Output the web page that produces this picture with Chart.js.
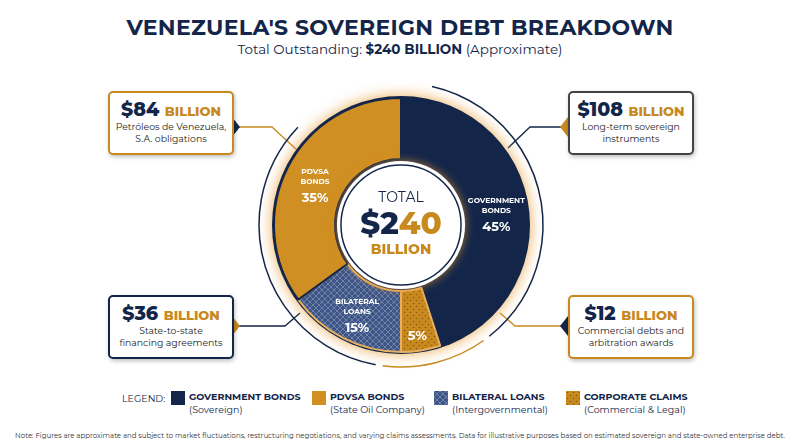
<!DOCTYPE html>
<html>
<head>
<meta charset="utf-8">
<script src="https://cdn.jsdelivr.net/npm/chart.js@4"></script>
<style>
  body{margin:0;width:800px;height:447px;background:#fff;font-family:Montserrat,"Open Sans",sans-serif;position:relative;overflow:hidden;color:#13264a}
  .abs{position:absolute}
  h1{position:absolute;top:14px;left:0;width:800px;margin:0;text-align:center;font-size:22px;font-weight:700;color:#13264a;letter-spacing:0.3px}
  .sub{top:41px;left:0;width:800px;text-align:center;font-size:13.5px}
  .box{width:122px;border:2px solid;border-radius:5px;background:#fff;text-align:center;box-shadow:1px 2px 4px rgba(0,0,0,.25)}
  .box .v{font-size:19px;font-weight:800;margin-top:5px}
  .box .v span{font-size:13px;color:#c8891f}
  .box .d{font-size:9.3px;line-height:12px;margin-bottom:8px;color:#222;white-space:nowrap}
  .leg{top:390px;font-size:9.5px;line-height:13px;white-space:nowrap}
  .leg b{font-weight:700;font-size:9.5px}
  .sw{width:14px;height:14px;top:391px}
</style>
</head>
<body>
<h1>VENEZUELA'S SOVEREIGN DEBT BREAKDOWN</h1>
<div class="abs sub">Total Outstanding: <b>$240 BILLION</b> (Approximate)</div>

<svg class="abs" style="left:0;top:0" width="800" height="447">
  <polyline points="232,127 272,127 297,150" fill="none" stroke="#c8891f" stroke-width="1.3"/>
  <polyline points="568,127 530,127 508,148" fill="none" stroke="#13264a" stroke-width="1.3"/>
  <polyline points="232,326 285,326 300,313" fill="none" stroke="#13264a" stroke-width="1.3"/>
  <polyline points="568,326 515,326 500,313" fill="none" stroke="#c8891f" stroke-width="1.3"/>
  <polygon points="232,117 240,127 232,137" fill="#13264a"/>
  <polygon points="568,117 560,127 568,137" fill="#c8891f"/>
  <polygon points="232,316 240,326 232,336" fill="#c8891f"/>
  <polygon points="568,316 560,326 568,336" fill="#13264a"/>
</svg>

<canvas id="grafico" class="abs" style="left:241px;top:65px" width="320" height="320"></canvas>

<div class="abs" style="left:341px;top:188px;width:120px;text-align:center">
  <div style="font-size:14px">TOTAL</div>
  <div style="font-size:31px;font-weight:800;line-height:34px">$2<span style="color:#c8891f">40</span></div>
  <div style="font-size:14px;font-weight:800;color:#c8891f">BILLION</div>
</div>

<div class="abs box" style="left:108px;top:91px;border-color:#c8891f"><div class="v">$84 <span>BILLION</span></div><div class="d">Petróleos de Venezuela,<br>S.A. obligations</div></div>
<div class="abs box" style="left:568px;top:91px;border-color:#444"><div class="v">$108 <span>BILLION</span></div><div class="d">Long-term sovereign<br>instruments</div></div>
<div class="abs box" style="left:108px;top:295px;border-color:#13264a"><div class="v">$36 <span>BILLION</span></div><div class="d">State-to-state<br>financing agreements</div></div>
<div class="abs box" style="left:568px;top:295px;border-color:#c8891f"><div class="v">$12 <span>BILLION</span></div><div class="d">Commercial debts and<br>arbitration awards</div></div>

<div class="abs leg" style="left:122px;top:392px">LEGEND:</div>
<div id="leyenda"></div>

<div class="abs" style="left:0;top:431px;width:800px;text-align:center;font-size:7px;color:#333;white-space:nowrap">Note: Figures are approximate and subject to market fluctuations, restructuring negotiations, and varying claims assessments. Data for illustrative purposes based on estimated sovereign and state-owned enterprise debt.</div>

<script>
// datos del grafico
const categorias = ['GOVERNMENT BONDS', 'CORPORATE CLAIMS', 'BILATERAL LOANS', 'PDVSA BONDS']
const porcentajes = [45, 5, 15, 35]
const etiquetas = [['GOVERNMENT', 'BONDS'], [], ['BILATERAL', 'LOANS'], ['PDVSA', 'BONDS']]
const leyenda_nombres = ['GOVERNMENT BONDS', 'PDVSA BONDS', 'BILATERAL LOANS', 'CORPORATE CLAIMS']
const leyenda_sub = ['(Sovereign)', '(State Oil Company)', '(Intergovernmental)', '(Commercial & Legal)']

//patrones para los prestamos y reclamos
function patron(fondo, linea, tipo){
    const c = document.createElement('canvas')
    c.width = 6; c.height = 6
    const x = c.getContext('2d')
    x.fillStyle = fondo; x.fillRect(0,0,6,6)
    x.strokeStyle = linea; x.fillStyle = linea
    if(tipo==='cruz'){
        x.lineWidth = 0.7
        x.beginPath(); x.moveTo(0,0); x.lineTo(6,6); x.moveTo(6,0); x.lineTo(0,6); x.stroke()
    } else {
        x.beginPath(); x.arc(1.5,1.5,0.8,0,7); x.arc(4.5,4.5,0.8,0,7); x.fill()
    }
    return document.getElementById('grafico').getContext('2d').createPattern(c,'repeat')
}
const colores = ['#13264a', patron('#c8891f','#8a5a10','punto'), patron('#3d5486','#8796b8','cruz'), '#d08f22']

// leyenda
const colLeg = ['#13264a','#d08f22', patron('#3d5486','#8796b8','cruz'), patron('#c8891f','#8a5a10','punto')]
const xs = [171, 312, 434, 566]
let html = ''
leyenda_nombres.forEach((n,i)=>{
    html += `<canvas class="abs sw" id="sw${i}" width="14" height="14" style="left:${xs[i]}px"></canvas>
    <div class="abs leg" style="left:${xs[i]+18}px"><b>${n}</b><br>${leyenda_sub[i]}</div>`
})
document.getElementById('leyenda').innerHTML = html
colLeg.forEach((c,i)=>{ const x=document.getElementById('sw'+i).getContext('2d'); x.fillStyle=c; x.fillRect(0,0,14,14) })

const extras = {
    id:'extras',
    beforeDatasetsDraw(chart){
        const a = chart.getDatasetMeta(0).data[0]
        const ctx = chart.ctx
        ctx.save()
        ctx.shadowColor = 'rgba(230,150,40,0.8)'; ctx.shadowBlur = 14
        ctx.fillStyle = '#13264a'
        ctx.beginPath(); ctx.arc(a.x,a.y,a.outerRadius+2,0,Math.PI*2); ctx.fill()
        ctx.restore()
    },
    afterDatasetsDraw(chart){
        const meta = chart.getDatasetMeta(0)
        const a = meta.data[0]
        const ctx = chart.ctx
        ctx.save()
        // anillo exterior
        ctx.strokeStyle = '#13264a'; ctx.lineWidth = 1.5
        ctx.beginPath(); ctx.arc(a.x,a.y,a.outerRadius+15,-1.35,0.9); ctx.stroke()
        ctx.beginPath(); ctx.arc(a.x,a.y,a.outerRadius+15,1.75,3.9); ctx.stroke()
        ctx.strokeStyle = '#c8891f'
        ctx.beginPath(); ctx.arc(a.x,a.y,a.outerRadius+15,0.95,1.7); ctx.stroke()
        // circulo interior
        ctx.shadowColor = 'rgba(230,150,40,0.7)'; ctx.shadowBlur = 10
        ctx.fillStyle = '#fff'
        ctx.beginPath(); ctx.arc(a.x,a.y,a.innerRadius-2,0,Math.PI*2); ctx.fill()
        ctx.shadowBlur = 0
        ctx.strokeStyle = '#13264a'; ctx.lineWidth = 1.5
        ctx.beginPath(); ctx.arc(a.x,a.y,a.innerRadius-6,0,Math.PI*2); ctx.stroke()
        // etiquetas
        ctx.fillStyle = '#fff'; ctx.textAlign = 'center'
        meta.data.forEach((arc,i)=>{
            const ang = (arc.startAngle+arc.endAngle)/2
            const r = (arc.innerRadius+arc.outerRadius)/2 + (i===1?8:0)
            const cx = a.x + Math.cos(ang)*r, cy = a.y + Math.sin(ang)*r
            const lin = etiquetas[i]
            let y = cy - (lin.length*11)/2 + 4
            ctx.font = 'bold 7.5px Montserrat, "Open Sans", sans-serif'
            lin.forEach(t=>{ ctx.fillText(t,cx,y); y+=10 })
            ctx.font = 'bold 13px Montserrat, "Open Sans", sans-serif'
            ctx.fillText(porcentajes[i]+'%', cx, y+8)
        })
        ctx.restore()
    }
}

new Chart(document.getElementById('grafico'), {
    type:'doughnut',
    data:{labels:categorias, datasets:[{data:porcentajes, backgroundColor:colores, borderColor:['#13264a','#e8b060','#e8b060','#13264a'], borderWidth:2}]},
    options:{
        responsive:false, animation:false, cutout:'52%',
        layout:{padding:32},
        plugins:{legend:{display:false}, tooltip:{enabled:false}}
    },
    plugins:[extras]
})
</script>
</body>
</html>
